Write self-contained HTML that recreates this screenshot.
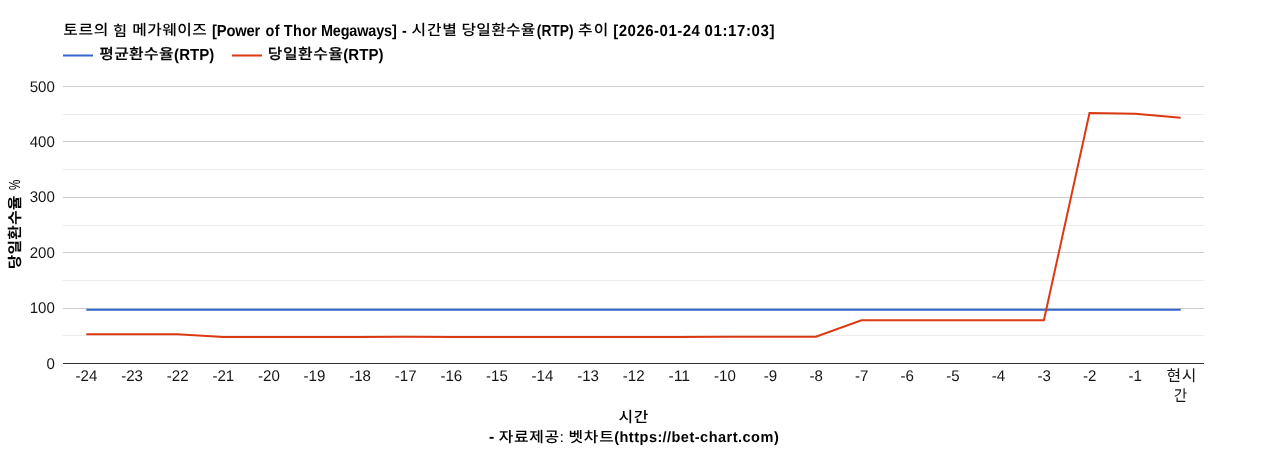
<!DOCTYPE html>
<html lang="ko"><head><meta charset="utf-8"><title>토르의 힘 메가웨이즈 [Power of Thor Megaways] - 시간별 당일환수율(RTP) 추이</title>
<style>
html,body{margin:0;padding:0;background:#fff;}
body{width:1268px;height:450px;overflow:hidden;}
svg{display:block;}
text{font-family:"Liberation Sans","Noto Sans CJK KR",sans-serif;fill:#222;text-rendering:geometricPrecision;}
.b{fill:#000;}
.ax{font-size:15.4px;fill:#161616;}
</style></head><body>
<svg width="1268" height="450" viewBox="0 0 1268 450">
<rect x="0" y="0" width="1268" height="450" fill="#ffffff"/>
<text class="b"><tspan x="63.29" y="35.45" textLength="45.72" lengthAdjust="spacingAndGlyphs" style="font-size:14.6px;font-weight:500;letter-spacing:0.618px">토르의</tspan> <tspan x="113.02" y="35.70" textLength="14.05" lengthAdjust="spacingAndGlyphs" style="font-size:14.6px;font-weight:500;letter-spacing:0.000px">힘</tspan> <tspan x="132.22" y="35.45" textLength="75.14" lengthAdjust="spacingAndGlyphs" style="font-size:14.6px;font-weight:500;letter-spacing:0.422px">메가웨이즈</tspan> <tspan x="212.11" y="36.00" textLength="48.00" lengthAdjust="spacingAndGlyphs" style="font-size:16px;font-weight:700;letter-spacing:-0.196px">[Power</tspan> <tspan x="265.55" y="36.00" textLength="14.45" lengthAdjust="spacingAndGlyphs" style="font-size:16px;font-weight:700;letter-spacing:0.472px">of</tspan> <tspan x="283.77" y="36.00" textLength="33.59" lengthAdjust="spacingAndGlyphs" style="font-size:16px;font-weight:700;letter-spacing:0.444px">Thor</tspan> <tspan x="321.00" y="36.00" textLength="75.54" lengthAdjust="spacingAndGlyphs" style="font-size:16px;font-weight:700;letter-spacing:-0.160px">Megaways]</tspan> <tspan x="402.05" y="36.00" textLength="4.76" lengthAdjust="spacingAndGlyphs" style="font-size:16px;font-weight:700;letter-spacing:0.000px">-</tspan> <tspan x="411.46" y="35.45" textLength="46.30" lengthAdjust="spacingAndGlyphs" style="font-size:14.6px;font-weight:500;letter-spacing:0.796px">시간별</tspan> <tspan x="461.44" y="35.45" textLength="74.23" lengthAdjust="spacingAndGlyphs" style="font-size:14.6px;font-weight:500;letter-spacing:0.254px">당일환수율</tspan><tspan x="536.85" y="36.00" textLength="36.71" lengthAdjust="spacingAndGlyphs" style="font-size:16px;font-weight:700;letter-spacing:-0.018px">(RTP)</tspan> <tspan x="578.09" y="35.45" textLength="31.52" lengthAdjust="spacingAndGlyphs" style="font-size:14.6px;font-weight:500;letter-spacing:1.096px">추이</tspan> <tspan x="613.20" y="36.00" textLength="87.27" lengthAdjust="spacingAndGlyphs" style="font-size:16px;font-weight:700;letter-spacing:0.538px">[2026-01-24</tspan> <tspan x="704.53" y="36.00" textLength="70.50" lengthAdjust="spacingAndGlyphs" style="font-size:16px;font-weight:700;letter-spacing:0.647px">01:17:03]</tspan></text>
<line x1="63" y1="55.5" x2="93" y2="55.5" stroke="#3366cc" stroke-width="2"/>
<text class="b"><tspan x="99.19" y="59.45" textLength="74.80" lengthAdjust="spacingAndGlyphs" style="font-size:14.6px;font-weight:500;letter-spacing:0.360px;stroke:#000;stroke-width:0.18px">평균환수율</tspan><tspan x="174.10" y="60.00" textLength="40.19" lengthAdjust="spacingAndGlyphs" style="font-size:16px;font-weight:700;letter-spacing:0.043px">(RTP)</tspan></text>
<line x1="232" y1="55.5" x2="262" y2="55.5" stroke="#dc3912" stroke-width="2"/>
<text class="b"><tspan x="267.84" y="59.45" textLength="75.60" lengthAdjust="spacingAndGlyphs" style="font-size:14.6px;font-weight:500;letter-spacing:0.508px;stroke:#000;stroke-width:0.18px">당일환수율</tspan><tspan x="343.30" y="60.00" textLength="40.19" lengthAdjust="spacingAndGlyphs" style="font-size:16px;font-weight:700;letter-spacing:0.043px">(RTP)</tspan></text>
<rect x="63" y="335" width="1141" height="1" fill="#ebebeb"/>
<rect x="63" y="280" width="1141" height="1" fill="#ebebeb"/>
<rect x="63" y="225" width="1141" height="1" fill="#ebebeb"/>
<rect x="63" y="169" width="1141" height="1" fill="#ebebeb"/>
<rect x="63" y="114" width="1141" height="1" fill="#ebebeb"/>
<rect x="63" y="308" width="1141" height="1" fill="#cccccc"/>
<rect x="63" y="252" width="1141" height="1" fill="#cccccc"/>
<rect x="63" y="197" width="1141" height="1" fill="#cccccc"/>
<rect x="63" y="141" width="1141" height="1" fill="#cccccc"/>
<rect x="63" y="86" width="1141" height="1" fill="#cccccc"/>
<rect x="63" y="363" width="1141" height="1" fill="#333333"/>
<path d="M86.30,309.76 L131.90,309.76 L177.50,309.76 L223.10,309.76 L268.70,309.76 L314.30,309.76 L359.90,309.76 L405.50,309.76 L451.10,309.76 L496.70,309.76 L542.30,309.76 L587.90,309.76 L633.50,309.76 L679.10,309.76 L724.70,309.76 L770.30,309.76 L815.90,309.76 L861.50,309.76 L907.10,309.76 L952.70,309.76 L998.30,309.76 L1043.90,309.76 L1089.50,309.76 L1135.10,309.76 L1180.70,309.76" fill="none" stroke="#3366cc" stroke-width="2"/>
<path d="M86.30,334.14 L131.90,334.14 L177.50,334.14 L223.10,336.91 L268.70,336.91 L314.30,336.91 L359.90,336.91 L405.50,336.63 L451.10,336.91 L496.70,336.91 L542.30,336.91 L587.90,336.91 L633.50,336.91 L679.10,336.91 L724.70,336.63 L770.30,336.63 L815.90,336.63 L861.50,320.29 L907.10,320.29 L952.70,320.29 L998.30,320.29 L1043.90,320.29 L1089.50,113.09 L1135.10,113.65 L1180.70,117.86" fill="none" stroke="#dc3912" stroke-width="2"/>
<text class="ax" x="46.46" y="369" textLength="8.39" lengthAdjust="spacingAndGlyphs">0</text>
<text class="ax" x="29.69" y="313" textLength="25.16" lengthAdjust="spacingAndGlyphs">100</text>
<text class="ax" x="29.69" y="258" textLength="25.16" lengthAdjust="spacingAndGlyphs">200</text>
<text class="ax" x="29.69" y="202" textLength="25.16" lengthAdjust="spacingAndGlyphs">300</text>
<text class="ax" x="29.69" y="147" textLength="25.16" lengthAdjust="spacingAndGlyphs">400</text>
<text class="ax" x="29.69" y="92" textLength="25.16" lengthAdjust="spacingAndGlyphs">500</text>
<text class="ax" x="75.60" y="381" textLength="21.79" lengthAdjust="spacingAndGlyphs">-24</text>
<text class="ax" x="121.20" y="381" textLength="21.79" lengthAdjust="spacingAndGlyphs">-23</text>
<text class="ax" x="166.80" y="381" textLength="21.79" lengthAdjust="spacingAndGlyphs">-22</text>
<text class="ax" x="212.40" y="381" textLength="21.79" lengthAdjust="spacingAndGlyphs">-21</text>
<text class="ax" x="258.00" y="381" textLength="21.79" lengthAdjust="spacingAndGlyphs">-20</text>
<text class="ax" x="303.60" y="381" textLength="21.79" lengthAdjust="spacingAndGlyphs">-19</text>
<text class="ax" x="349.20" y="381" textLength="21.79" lengthAdjust="spacingAndGlyphs">-18</text>
<text class="ax" x="394.80" y="381" textLength="21.79" lengthAdjust="spacingAndGlyphs">-17</text>
<text class="ax" x="440.40" y="381" textLength="21.79" lengthAdjust="spacingAndGlyphs">-16</text>
<text class="ax" x="486.00" y="381" textLength="21.79" lengthAdjust="spacingAndGlyphs">-15</text>
<text class="ax" x="531.60" y="381" textLength="21.79" lengthAdjust="spacingAndGlyphs">-14</text>
<text class="ax" x="577.20" y="381" textLength="21.79" lengthAdjust="spacingAndGlyphs">-13</text>
<text class="ax" x="622.80" y="381" textLength="21.79" lengthAdjust="spacingAndGlyphs">-12</text>
<text class="ax" x="668.40" y="381" textLength="21.79" lengthAdjust="spacingAndGlyphs">-11</text>
<text class="ax" x="714.00" y="381" textLength="21.79" lengthAdjust="spacingAndGlyphs">-10</text>
<text class="ax" x="763.80" y="381" textLength="13.41" lengthAdjust="spacingAndGlyphs">-9</text>
<text class="ax" x="809.40" y="381" textLength="13.41" lengthAdjust="spacingAndGlyphs">-8</text>
<text class="ax" x="855.00" y="381" textLength="13.41" lengthAdjust="spacingAndGlyphs">-7</text>
<text class="ax" x="900.60" y="381" textLength="13.41" lengthAdjust="spacingAndGlyphs">-6</text>
<text class="ax" x="946.20" y="381" textLength="13.41" lengthAdjust="spacingAndGlyphs">-5</text>
<text class="ax" x="991.80" y="381" textLength="13.41" lengthAdjust="spacingAndGlyphs">-4</text>
<text class="ax" x="1037.40" y="381" textLength="13.41" lengthAdjust="spacingAndGlyphs">-3</text>
<text class="ax" x="1083.00" y="381" textLength="13.41" lengthAdjust="spacingAndGlyphs">-2</text>
<text class="ax" x="1128.60" y="381" textLength="13.41" lengthAdjust="spacingAndGlyphs">-1</text>
<text class="ax"><tspan x="1166.43" y="380.95" textLength="30.53" lengthAdjust="spacingAndGlyphs" style="font-size:15.4px;font-weight:400;letter-spacing:0.658px;fill:#161616">현시</tspan><tspan x="1173.69" y="401.00" textLength="13.41" lengthAdjust="spacingAndGlyphs" style="font-size:15.4px;font-weight:400;letter-spacing:0.000px;fill:#161616">간</tspan></text>
<text class="b"><tspan x="618.56" y="421.65" textLength="30.52" lengthAdjust="spacingAndGlyphs" style="font-size:14.6px;font-weight:500;letter-spacing:0.636px">시간</tspan></text>
<text class="b"><tspan x="488.91" y="441.80" textLength="5.27" lengthAdjust="spacingAndGlyphs" style="font-size:16px;font-weight:700;letter-spacing:0.000px">-</tspan> <tspan x="498.86" y="441.85" textLength="65.73" lengthAdjust="spacingAndGlyphs" style="font-size:14.6px;font-weight:500;letter-spacing:0.562px">자료제공:</tspan> <tspan x="568.54" y="441.85" textLength="46.00" lengthAdjust="spacingAndGlyphs" style="font-size:14.6px;font-weight:500;letter-spacing:0.704px">벳차트</tspan><tspan x="614.17" y="441.80" textLength="48.68" lengthAdjust="spacingAndGlyphs" style="font-size:15px;font-weight:700;letter-spacing:0.504px">(https:</tspan><tspan x="662.46" y="441.80" textLength="116.76" lengthAdjust="spacingAndGlyphs" style="font-size:15px;font-weight:700;letter-spacing:0.491px">//bet-chart.com)</tspan></text>
<text class="b" transform="translate(0 268.1) rotate(-90)"><tspan x="-1.08" y="19.55" textLength="73.76" lengthAdjust="spacingAndGlyphs" style="font-size:14.6px;font-weight:700;letter-spacing:0.169px">당일환수율</tspan> <tspan x="78.04" y="20.20" textLength="10.31" lengthAdjust="spacingAndGlyphs" style="font-size:16px;font-weight:400;letter-spacing:0.000px">%</tspan></text>
</svg></body></html>
